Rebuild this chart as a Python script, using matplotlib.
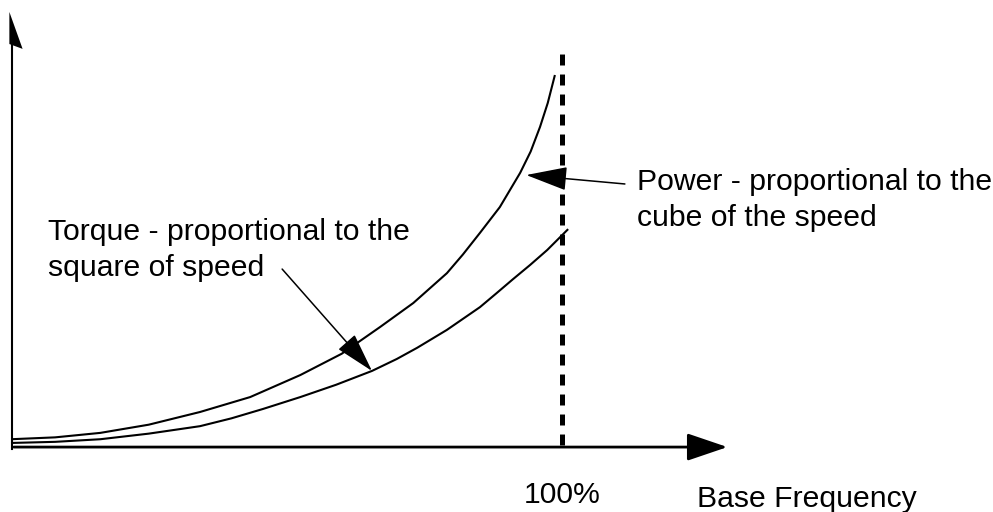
import matplotlib
matplotlib.use("Agg")
import matplotlib.pyplot as plt
from matplotlib.patches import FancyArrowPatch, Polygon

plt.rcParams['font.family'] = ['Liberation Sans', 'DejaVu Sans']

# speed in % of base frequency, curve heights in % of the power at 100%
power_speed = [0, 8, 16.2, 25, 34.3, 43.4, 52.5, 60, 67.0, 73.0, 79.1, 82, 85.1,
               88.7, 92.4, 94.3, 96.0, 97.4, 98.7]
power_value = [2.1, 2.6, 3.8, 6.0, 9.4, 13.4, 19.3, 25.0, 32.2, 38.6, 46.6, 51.6, 57.4,
               64.3, 73.5, 79.2, 85.8, 92.2, 99.7]

torque_speed = [0, 8, 16.2, 25, 34.3, 40, 45.7, 52.5, 59, 65.5, 70, 73.7, 79.1,
                85.1, 88, 91.1, 94.2, 97.3, 101.1]
torque_value = [1.1, 1.4, 2.1, 3.6, 5.6, 7.7, 10.2, 13.4, 16.7, 20.4, 23.6, 26.6, 31.4,
                37.5, 41.1, 45.0, 48.8, 52.8, 58.4]

base_freq = 100
torque_label = ["Torque - proportional to the", "square of speed"]
power_label = ["Power - proportional to the", "cube of the speed"]

fig = plt.figure(figsize=(9.93, 5.12), dpi=100)
ax = fig.add_axes([0, 0, 1, 1])
ax.set_xlim(-2.0, 178.2)
ax.set_ylim(-17.4, 119.8)
ax.axis('off')

# curves
ax.plot(power_speed, power_value, color='black', lw=1.5, solid_capstyle='butt',
        solid_joinstyle='round')
ax.plot(torque_speed, torque_value, color='black', lw=1.5, solid_capstyle='butt',
        solid_joinstyle='round')

# 100% line
ax.plot([base_freq, base_freq], [0.5, 106.2], color='black', lw=3.6,
        linestyle=(0, (7.9 / 3.6, 6.5 / 3.6)))

# axes with arrows
ax.plot([0.1, 0.1], [-0.5, 112], color='black', lw=1.5)
ax.add_patch(Polygon([(-0.3, 116.6), (-0.3, 108.0), (2.1, 106.7)],
                     closed=True, color='black', lw=0))
ax.add_patch(FancyArrowPatch((0.5, 0), (130.0, 0), arrowstyle='-|>,head_length=25,head_width=8.5',
                             mutation_scale=1, color='black', lw=2.0, shrinkA=0, shrinkB=0))

# annotation arrows
ax.add_patch(FancyArrowPatch((49.2, 47.7), (65.5, 20.4), arrowstyle='-|>,head_length=25,head_width=7',
                             mutation_scale=1, color='black', lw=1.1, shrinkA=0, shrinkB=0))
ax.add_patch(FancyArrowPatch((111.4, 70.5), (93.5, 72.9), arrowstyle='-|>,head_length=26,head_width=7.5',
                             mutation_scale=1, color='black', lw=1.1, shrinkA=0, shrinkB=0))

fs = 21.7
ax.text(6.7, 55.5, torque_label[0], fontsize=fs, va='baseline', ha='left')
ax.text(6.7, 45.8, torque_label[1], fontsize=fs, va='baseline', ha='left')
ax.text(113.6, 68.9, power_label[0], fontsize=fs, va='baseline', ha='left')
ax.text(113.6, 59.2, power_label[1], fontsize=fs, va='baseline', ha='left')
ax.text(base_freq, -15.0, "100%", fontsize=fs, va='baseline', ha='center')
ax.text(124.5, -16.1, "Base Frequency", fontsize=fs, va='baseline', ha='left')

fig.savefig("out.png", dpi=100)
